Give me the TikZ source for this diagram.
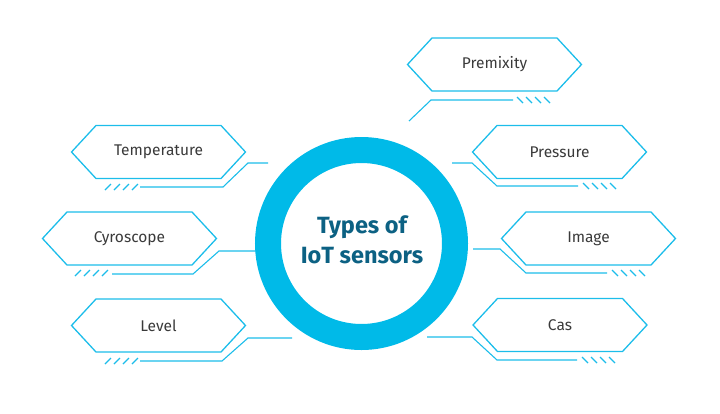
\documentclass[tikz,border=0pt]{standalone}
\usepackage{fontspec}
\setmainfont{Fira Sans}
\definecolor{cyanl}{HTML}{1CBDEA}
\definecolor{ringc}{HTML}{00BAE8}
\definecolor{titlec}{HTML}{0C6183}
\definecolor{labelc}{HTML}{3A3A3A}
\tikzset{
  hexline/.style={draw=cyanl, line width=1.3pt, line join=miter},
  conn/.style={draw=cyanl, line width=1.1pt},
  hatchline/.style={draw=cyanl, line width=1.1pt},
  label/.style={text=labelc, font=\fontsize{15.5}{18}\selectfont, inner sep=0pt},
}
% hexagon: name, cx, cy, text
\newcommand{\hexa}[4]{%
  \draw[hexline] (#2-87,#3) -- (#2-62.5,#3-26.5) -- (#2+62.5,#3-26.5) -- (#2+87,#3) -- (#2+62.5,#3+26.5) -- (#2-62.5,#3+26.5) -- cycle;
  \node[label] (#1) at (#2,#3) {#4};
}
\newcommand{\hatchR}[2]{%
  \foreach \i in {0,...,3} {\draw[hatchline] (#1+9*\i,#2) -- ++(6,6);}
}
\newcommand{\hatchL}[2]{%
  \foreach \i in {0,...,3} {\draw[hatchline] (#1+9*\i,#2+6) -- ++(6,-6);}
}
\begin{document}
\begin{tikzpicture}[x=1pt,y=-1pt]
\useasboundingbox (0,0) rectangle (720,413);
% connectors (drawn first, ring covers ends)
\draw[conn] (409,121) -- (431,100) -- (513,100);
\hatchR{517}{97}
\draw[conn] (268,163) -- (248,163) -- (223,187) -- (140,187);
\hatchL{105}{184}
\draw[conn] (452,163) -- (472,163) -- (497,186) -- (578,186);
\hatchR{583}{183}
\draw[conn] (258,251) -- (219,251) -- (193,274) -- (112,274);
\hatchL{75}{270}
\draw[conn] (473,249) -- (500,249) -- (526,273) -- (607,273);
\hatchR{612}{270}
\draw[conn] (292,338) -- (248,338) -- (222,361) -- (140,361);
\hatchL{105}{358}
\draw[conn] (427,337) -- (472,337) -- (497,360) -- (577,360);
\hatchR{582}{357}
% ring
\draw[ringc, line width=26pt] (361.5,243.5) circle[radius=93.5];
\node[text=titlec, font=\bfseries\fontsize{23.5}{30}\selectfont, align=center] (title) at (362,240) {Types of\\IoT sensors};
% hexagons
\hexa{premixity}{494.5}{64.5}{Premixity}
\hexa{temperature}{158.5}{152}{Temperature}
\hexa{pressure}{559.5}{152}{Pressure}
\hexa{cyroscope}{129.5}{238.5}{Cyroscope}
\hexa{image}{588.5}{238.5}{Image}
\hexa{level}{158.5}{325.5}{Level}
\hexa{cas}{560}{325}{Cas}
\end{tikzpicture}
\end{document}
